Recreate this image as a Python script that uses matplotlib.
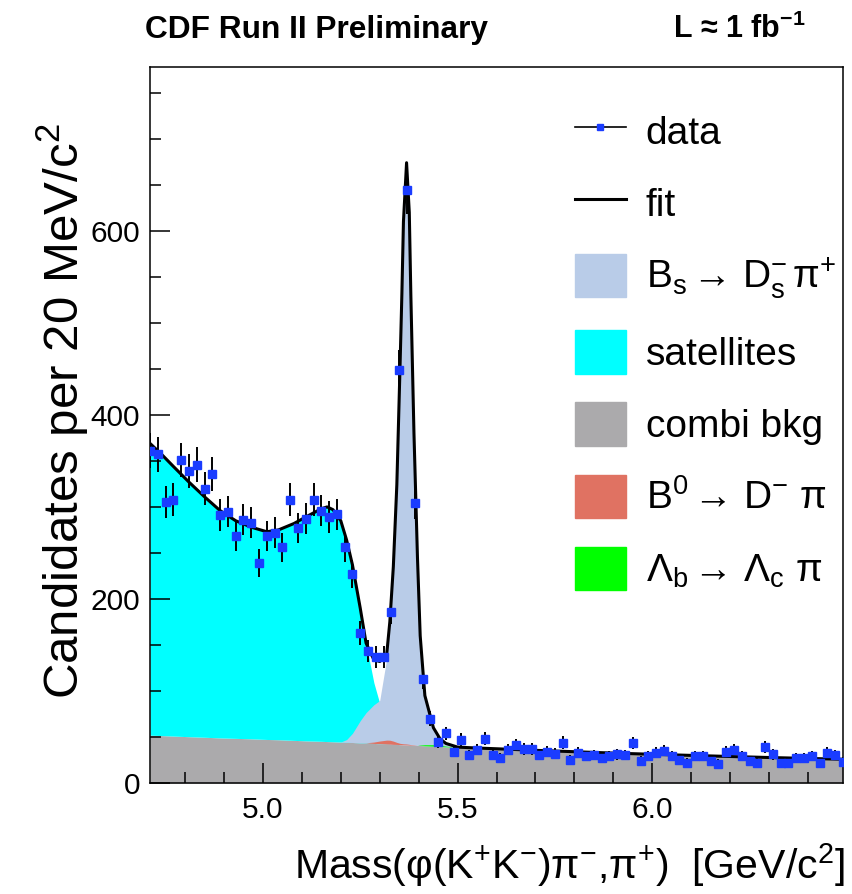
import numpy as np
import matplotlib
matplotlib.use('Agg')
import matplotlib.pyplot as plt
import matplotlib.patches as mpatches
from matplotlib.lines import Line2D
from matplotlib.ticker import MultipleLocator, FixedLocator

plt.rcParams['font.family'] = ['Liberation Sans', 'DejaVu Sans']
plt.rcParams['mathtext.fontset'] = 'custom'
plt.rcParams['mathtext.rm'] = 'Liberation Sans'
plt.rcParams['mathtext.it'] = 'Liberation Sans:italic'
plt.rcParams['mathtext.bf'] = 'Liberation Sans:bold'
plt.rcParams['mathtext.default'] = 'regular'

## Datos (bins de 20 MeV)
mass = np.round(np.arange(90) * 0.02 + 4.71, 3)
counts = [361, 357, 305, 308, 351, 339, 346, 320, 336, 291,
          295, 268, 286, 283, 239, 268, 272, 256, 308, 277,
          287, 308, 296, 289, 292, 256, 227, 163, 143, 137,
          137, 186, 449, 644, 304, 113, 70, 45, 54, 34,
          47, 30, 36, 48, 30, 27, 36, 41, 37, 37,
          30, 34, 32, 44, 25, 33, 29, 30, 27, 29,
          31, 30, 43, 24, 29, 33, 35, 29, 25, 22,
          29, 29, 24, 21, 34, 36, 29, 24, 22, 39,
          31, 22, 22, 27, 27, 29, 22, 33, 30, 23]

## Curvas del ajuste
grid = [4.71, 4.74, 4.77, 4.81, 4.85, 4.89, 4.93, 4.97, 5.01, 5.04,
        5.08, 5.11, 5.15, 5.165, 5.18, 5.20, 5.215, 5.23, 5.25, 5.265,
        5.285, 5.30, 5.318, 5.326, 5.335, 5.344, 5.352, 5.357, 5.361, 5.369,
        5.376, 5.38, 5.388, 5.397, 5.404, 5.416, 5.438, 5.455, 5.47, 5.50,
        5.55, 5.60, 5.70, 5.80, 5.90, 6.00, 6.10, 6.20, 6.30, 6.40, 6.49]
fit = [369, 357, 344, 327, 311, 296, 285, 278, 273, 275,
       282, 289, 298, 300, 297, 285, 264, 237, 190, 152,
       134, 132, 140, 175, 235, 324, 449, 532, 610, 674,
       620, 530, 380, 245, 160, 95, 60, 48, 43, 39,
       38, 37.2, 35.5, 34, 32.5, 31.2, 30, 28.8, 27.7, 26.7, 25.8]
combi = [52, 51.5, 51, 50.3, 49.7, 49, 48.5, 48, 47.3, 47,
         46.3, 45.8, 45.3, 45, 44.8, 44.5, 44.2, 44, 43.7, 43.5,
         43, 42.6, 42.3, 42.2, 42, 41.9, 41.7, 41.6, 41.5, 41.4,
         41.2, 41.1, 41, 40.8, 40.7, 40.4, 40, 39.6, 39.3, 38.7,
         37.8, 37, 35.3, 33.7, 32.3, 31, 29.8, 28.6, 27.5, 26.5, 25.6]
satellites = [317, 305.5, 293, 277, 261, 247, 236.5, 230, 225.7, 228,
              235.7, 243, 252.7, 255, 252, 240.5, 220, 193, 146, 108,
              66, 44, 10, 0, 0, 0, 0, 0, 0, 0,
              0, 0, 0, 0, 0, 0, 0, 0, 0, 0,
              0, 0, 0, 0, 0, 0, 0, 0, 0, 0, 0]
bs_signal = [0, 0, 0, 0, 0, 0, 0, 0, 0, 0,
             0, 0, 0, 0, 0, 0, 3, 10, 24, 33,
             42, 47, 93, 129, 190, 280, 407, 491, 569, 633,
             579, 489, 339, 204, 119, 53, 19, 8, 3.5, 0,
             0, 0, 0, 0, 0, 0, 0, 0, 0, 0, 0]
b0_dpi = [0, 0, 0, 0, 0, 0, 0, 0, 0, 0,
          0, 0, 0, 0, 0, 0, 0, 0, 0, 0.2,
          1.5, 3, 4.3, 4.3, 3.5, 2.2, 1.4, 1.2, 1.1, 1.0,
          0.8, 0.6, 0.4, 0, 0, 0, 0, 0, 0, 0,
          0, 0, 0, 0, 0, 0, 0, 0, 0, 0, 0]
lb_lcpi = [0, 0, 0, 0, 0, 0, 0, 0, 0, 0,
           0, 0, 0, 0, 0, 0, 0, 0, 0, 0,
           0, 0, 0, 0, 0, 0, 0, 0, 0, 0,
           0, 0, 0, 0, 0.5, 1.2, 1.6, 1.4, 0.8, 0,
           0, 0, 0, 0, 0, 0, 0, 0, 0, 0, 0]

labels = ['data', 'fit',
          r'B$_{s}$$\,$→ D$_{s}^{-}$$\,$π$^{+}$',
          'satellites', 'combi bkg',
          r'B$^{0}$$\,$→ D$^{-}$ π',
          r'Λ$_{b}$$\,$→ Λ$_{c}$ π']

c_sig = '#b9cce8'
c_sat = '#00ffff'
c_comb = '#abaaac'
c_b0 = '#e07262'
c_lb = '#00ff00'
c_dat = '#1a3cff'

grid = np.array(grid)
combi = np.array(combi)

## Figura
fig = plt.figure(figsize=(8.52, 8.94), dpi=100)
ax = fig.add_axes([150/852, 1-783/894, 693/852, 716/894])

ax.fill_between(grid, 0, combi, color=c_comb, lw=0)
ax.fill_between(grid, combi, combi + np.array(satellites), color=c_sat, lw=0)
ax.fill_between(grid, combi, combi + np.array(bs_signal), color=c_sig, lw=0)
ax.fill_between(grid, combi, combi + np.array(b0_dpi), color=c_b0, lw=0)
ax.fill_between(grid, combi, combi + np.array(lb_lcpi), color=c_lb, lw=0)
ax.plot(grid, fit, color='k', lw=2.2, zorder=3)

ax.errorbar(mass, counts, yerr=np.sqrt(counts), fmt='s', color=c_dat,
            ms=5.8, mec=c_dat, ecolor='k', elinewidth=1.4, capsize=0, zorder=4)

ax.set_xlim(4.71, 6.49)
ax.set_ylim(0, 778)
ax.xaxis.set_major_locator(FixedLocator([5.0, 5.5, 6.0]))
ax.xaxis.set_minor_locator(MultipleLocator(0.1))
ax.yaxis.set_major_locator(MultipleLocator(200))
ax.yaxis.set_minor_locator(MultipleLocator(50))
ax.set_xticklabels(['5.0', '5.5', '6.0'])
ax.tick_params(which='both', direction='in', top=False, right=False, width=1.1, labelsize=21.5)
ax.tick_params(which='major', length=14.4)
ax.tick_params(which='minor', length=8)
ax.tick_params(axis='x', pad=9)
ax.tick_params(axis='y', pad=7)
for s in ax.spines.values():
    s.set_linewidth(1.1)

ax.set_xlabel(r'Mass(φ(K$^{+}$K$^{-}$)π$^{-}$,π$^{+}$)  [GeV/c$^{2}$]', fontsize=29.5, loc='right')
ax.xaxis.set_label_coords(1.003, -0.134)
ax.xaxis.label.set_verticalalignment('baseline')
ax.set_ylabel(r'Candidates per 20 MeV/c$^{2}$', fontsize=35.5)
ax.yaxis.set_label_coords(-0.085, 0.52)

handles = [Line2D([], [], color='k', lw=1.2, marker='s', ms=4, mfc=c_dat, mec=c_dat),
           Line2D([], [], color='k', lw=2.2),
           mpatches.Patch(color=c_sig), mpatches.Patch(color=c_sat),
           mpatches.Patch(color=c_comb), mpatches.Patch(color=c_b0),
           mpatches.Patch(color=c_lb)]
ax.legend(handles, labels, loc='upper left', bbox_to_anchor=(0.6133, 0.941),
          frameon=False, fontsize=28, handlelength=1.31, handleheight=1.34,
          labelspacing=0.74, handletextpad=0.51, borderpad=0, borderaxespad=0)

fig.text(145/852, 1-38/894, 'CDF Run II Preliminary', fontsize=22.8, fontweight='bold', va='baseline')
fig.text(673/852, 1-38/894, r'L ≈ 1 fb$^{\mathbf{-1}}$', fontsize=22, fontweight='bold', va='baseline')

plt.savefig('out.png', dpi=100)
